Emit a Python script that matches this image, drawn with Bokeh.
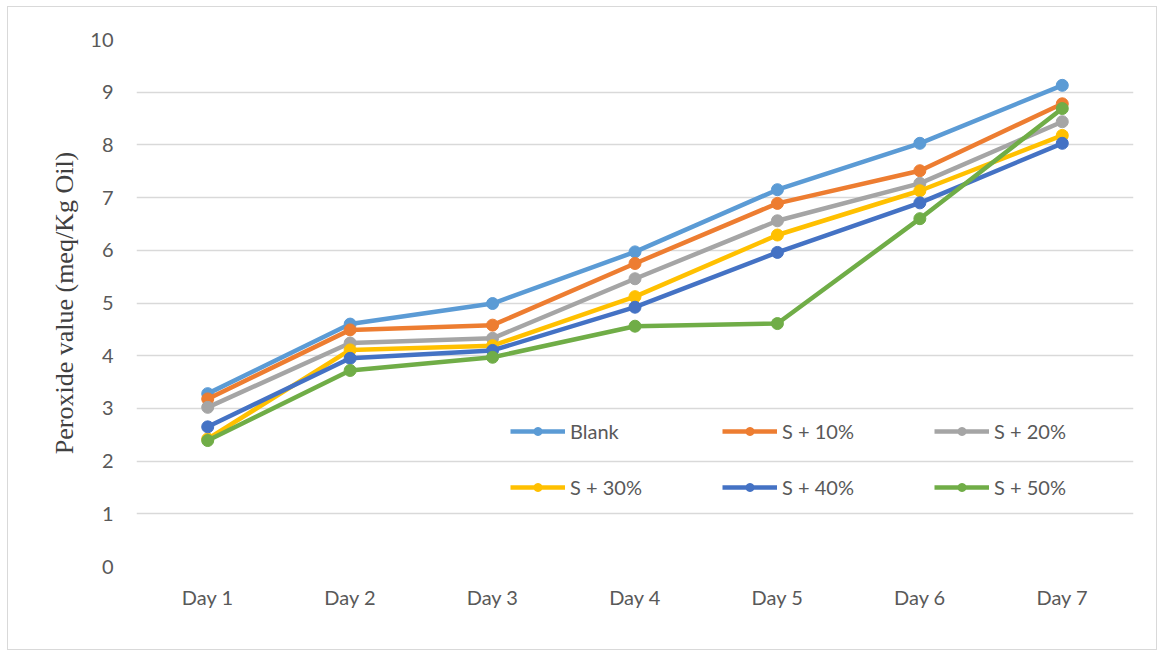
from bokeh.plotting import figure
from bokeh.models import Legend, LegendItem, FactorRange, Range1d, FixedTicker
from bokeh.embed import file_html
from bokeh.resources import INLINE

days = ["Day 1", "Day 2", "Day 3", "Day 4", "Day 5", "Day 6", "Day 7"]
series_names = ["Blank", "S + 10%", "S + 20%", "S + 30%", "S + 40%", "S + 50%"]
blank = [3.28, 4.60, 4.99, 5.97, 7.15, 8.03, 9.13]
s10 = [3.18, 4.49, 4.58, 5.75, 6.89, 7.51, 8.78]
s20 = [3.02, 4.24, 4.33, 5.46, 6.56, 7.27, 8.44]
s30 = [2.42, 4.11, 4.19, 5.12, 6.29, 7.13, 8.18]
s40 = [2.65, 3.95, 4.10, 4.92, 5.96, 6.90, 8.03]
s50 = [2.39, 3.72, 3.97, 4.56, 4.61, 6.60, 8.69]
y_ticks = [0, 1, 2, 3, 4, 5, 6, 7, 8, 9, 10]

series = [blank, s10, s20, s30, s40, s50]
colors = ["#5B9BD5", "#ED7D31", "#A5A5A5", "#FFC000", "#4472C4", "#70AD47"]

W, H = 1150, 644
p = figure(width=W, height=H, x_range=FactorRange(*days, range_padding=0),
           y_range=Range1d(0, 10), output_backend="svg", toolbar_location=None,
           min_border_left=128, min_border_right=25, min_border_top=32,
           min_border_bottom=85)
p.styles = {"border": "1px solid #d9d9d9", "margin-left": "7px", "margin-top": "6px"}
p.outline_line_color = None
p.background_fill_color = "white"
p.border_fill_color = "white"

p.xgrid.grid_line_color = None
p.ygrid.grid_line_color = "#d9d9d9"
p.ygrid.grid_line_width = 1.5
p.yaxis.ticker = FixedTicker(ticks=y_ticks)

for ax in (p.xaxis, p.yaxis):
    ax.axis_line_color = None
    ax.major_tick_line_color = None
    ax.minor_tick_line_color = None
    ax.major_label_text_font = "Lato"
    ax.major_label_text_font_size = "20px"
    ax.major_label_text_color = "#595959"
p.yaxis.major_label_standoff = 17
p.xaxis.major_label_standoff = 12
p.yaxis.axis_label = "Peroxide value (meq/Kg Oil)"
p.yaxis.axis_label_text_font = "Liberation Serif"
p.yaxis.axis_label_text_font_style = "normal"
p.yaxis.axis_label_text_font_size = "26px"
p.yaxis.axis_label_text_color = "#404040"
p.yaxis.axis_label_standoff = 8

items = []
for name, vals, c in zip(series_names, series, colors):
    l = p.line(days, vals, line_color=c, line_width=4.5)
    s = p.scatter(days, vals, size=12, fill_color=c, line_color=c)
    items.append(LegendItem(label=name, renderers=[l, s]))

legend = Legend(items=items, location=(374, 67), orientation="horizontal", ncols=3,
                glyph_width=55, glyph_height=20, label_height=20, label_width=120,
                spacing=32, padding=4, margin=0, label_standoff=5,
                label_text_font="Lato", label_text_font_size="20px",
                label_text_color="#595959", background_fill_alpha=0,
                border_line_color=None)
p.add_layout(legend, "center")

open("out.html", "w").write(file_html(p, INLINE))
